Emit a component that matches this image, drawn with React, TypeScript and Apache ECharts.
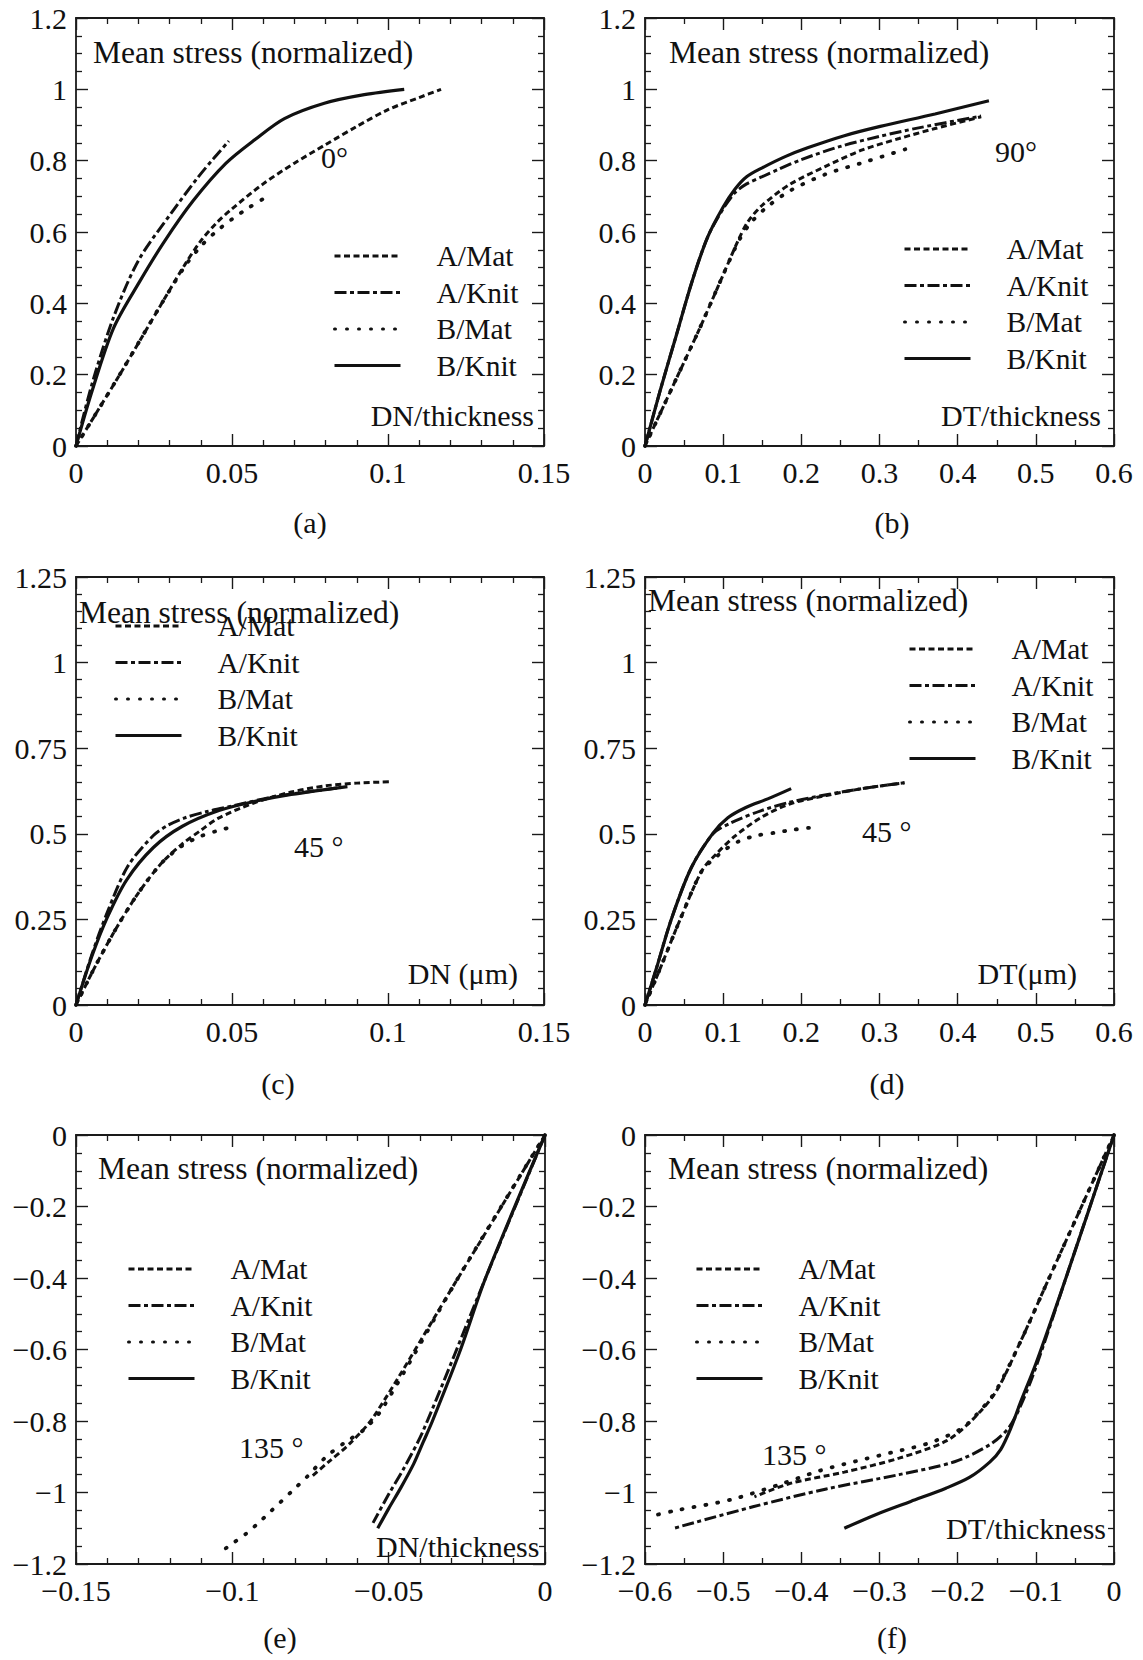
import React, { useEffect, useRef } from "react";
import * as echarts from "echarts";

type Pt = [number, number];

const FONT = '"Liberation Serif", "Times New Roman", Times, serif';
const INK = "#111111";
const TICK_FONT = 30;
const NOTE_FONT = 30;
const TITLE_FONT = 31.5;
const LEGEND_FONT = 29.5;

const SERIES_NAMES = ["A/Mat", "A/Knit", "B/Mat", "B/Knit"];

// ---------- (a) 0°, DN/thickness ----------
const a_AMat: Pt[] = [[0, 0], [0.014, 0.2], [0.0275, 0.4], [0.035, 0.51], [0.04, 0.575], [0.045, 0.625], [0.05, 0.665], [0.06, 0.735], [0.07, 0.793], [0.08, 0.845], [0.09, 0.896], [0.1, 0.943], [0.11, 0.977], [0.117, 1.0]];
const a_AKnit: Pt[] = [[0, 0], [0.005, 0.17], [0.012, 0.36], [0.02, 0.52], [0.0307, 0.655], [0.0388, 0.75], [0.044, 0.805], [0.049, 0.855]];
const a_BMat: Pt[] = [[0, 0], [0.014, 0.2], [0.0275, 0.4], [0.035, 0.505], [0.04, 0.56], [0.045, 0.602], [0.05, 0.636], [0.055, 0.666], [0.061, 0.698]];
const a_BKnit: Pt[] = [[0, 0], [0.005, 0.15], [0.012, 0.33], [0.0202, 0.458], [0.0283, 0.573], [0.0376, 0.688], [0.0481, 0.793], [0.0575, 0.86], [0.0668, 0.918], [0.0796, 0.961], [0.0924, 0.985], [0.1052, 1.0]];

// ---------- (b) 90°, DT/thickness ----------
const b_AMat: Pt[] = [[0, 0], [0.035, 0.165], [0.07, 0.33], [0.1, 0.48], [0.12, 0.58], [0.132, 0.63], [0.15, 0.675], [0.185, 0.733], [0.231, 0.784], [0.278, 0.83], [0.325, 0.862], [0.371, 0.89], [0.43, 0.923]];
const b_AKnit: Pt[] = [[0, 0], [0.02, 0.16], [0.04, 0.31], [0.06, 0.46], [0.08, 0.585], [0.1, 0.665], [0.115, 0.71], [0.13, 0.735], [0.15, 0.755], [0.17, 0.775], [0.2, 0.803], [0.25, 0.84], [0.3, 0.868], [0.35, 0.892], [0.43, 0.925]];
const b_BMat: Pt[] = [[0, 0], [0.035, 0.165], [0.07, 0.33], [0.1, 0.48], [0.12, 0.575], [0.135, 0.625], [0.155, 0.668], [0.185, 0.715], [0.231, 0.762], [0.278, 0.794], [0.333, 0.832]];
const b_BKnit: Pt[] = [[0, 0], [0.02, 0.16], [0.04, 0.31], [0.06, 0.46], [0.08, 0.585], [0.1, 0.67], [0.115, 0.72], [0.13, 0.755], [0.15, 0.78], [0.18, 0.812], [0.208, 0.836], [0.255, 0.87], [0.301, 0.896], [0.371, 0.931], [0.44, 0.968]];

// ---------- (c) 45°, DN (μm) ----------
const c_AMat: Pt[] = [[0, 0], [0.006, 0.11], [0.012, 0.21], [0.018, 0.3], [0.023, 0.365], [0.028, 0.42], [0.034, 0.47], [0.04, 0.51], [0.0455, 0.545], [0.057, 0.59], [0.069, 0.622], [0.08, 0.64], [0.09, 0.648], [0.101, 0.652]];
const c_AKnit: Pt[] = [[0, 0], [0.005, 0.145], [0.01, 0.27], [0.0166, 0.405], [0.0248, 0.495], [0.0295, 0.525], [0.035, 0.547], [0.042, 0.565], [0.0505, 0.582], [0.0645, 0.61], [0.085, 0.635]];
const c_BMat: Pt[] = [[0, 0], [0.006, 0.11], [0.012, 0.21], [0.018, 0.3], [0.023, 0.365], [0.028, 0.42], [0.034, 0.465], [0.04, 0.493], [0.045, 0.508], [0.05, 0.52]];
const c_BKnit: Pt[] = [[0, 0], [0.005, 0.14], [0.01, 0.255], [0.0162, 0.365], [0.0248, 0.46], [0.0341, 0.522], [0.0458, 0.568], [0.0574, 0.595], [0.069, 0.615], [0.087, 0.638]];

// ---------- (d) 45°, DT (μm) ----------
const d_AMat: Pt[] = [[0, 0], [0.02, 0.11], [0.045, 0.25], [0.073, 0.393], [0.092, 0.443], [0.115, 0.493], [0.148, 0.547], [0.185, 0.587], [0.232, 0.612], [0.278, 0.632], [0.332, 0.649]];
const d_AKnit: Pt[] = [[0, 0], [0.015, 0.11], [0.0336, 0.25], [0.059, 0.4], [0.087, 0.5], [0.11, 0.532], [0.148, 0.567], [0.185, 0.592], [0.232, 0.614], [0.278, 0.632], [0.332, 0.649]];
const d_BMat: Pt[] = [[0, 0], [0.02, 0.11], [0.045, 0.25], [0.073, 0.393], [0.09, 0.43], [0.1, 0.45], [0.12, 0.478], [0.143, 0.495], [0.166, 0.503], [0.19, 0.512], [0.212, 0.518]];
const d_BKnit: Pt[] = [[0, 0], [0.015, 0.11], [0.0336, 0.25], [0.059, 0.4], [0.087, 0.502], [0.106, 0.547], [0.129, 0.577], [0.157, 0.602], [0.187, 0.632]];

// ---------- (e) 135°, DN/thickness ----------
const e_AMat: Pt[] = [[0, 0], [-0.0278, -0.4], [-0.0547, -0.787], [-0.0623, -0.862], [-0.0693, -0.915], [-0.0746, -0.955]];
const e_AKnit: Pt[] = [[0, 0], [-0.019, -0.4], [-0.0389, -0.826], [-0.045, -0.93], [-0.05, -1.005], [-0.055, -1.085]];
const e_BMat: Pt[] = [[0, 0], [-0.0278, -0.4], [-0.052, -0.765], [-0.058, -0.825], [-0.064, -0.86], [-0.07, -0.9], [-0.076, -0.955], [-0.081, -0.997], [-0.088, -1.055], [-0.092, -1.088], [-0.0956, -1.115], [-0.1, -1.143], [-0.1035, -1.165]];
const e_BKnit: Pt[] = [[0, 0], [-0.019, -0.4], [-0.027, -0.6], [-0.036, -0.8], [-0.039, -0.86], [-0.042, -0.92], [-0.046, -0.985], [-0.05, -1.045], [-0.0535, -1.1]];

// ---------- (f) 135°, DT/thickness ----------
const f_AMat: Pt[] = [[0, 0], [-0.083, -0.4], [-0.12, -0.58], [-0.151, -0.718], [-0.181, -0.796], [-0.214, -0.855], [-0.275, -0.904], [-0.345, -0.943], [-0.415, -0.975], [-0.46, -1.012]];
const f_AKnit: Pt[] = [[0, 0], [-0.06, -0.39], [-0.1, -0.65], [-0.12, -0.76], [-0.135, -0.82], [-0.158, -0.865], [-0.204, -0.914], [-0.275, -0.95], [-0.368, -0.99], [-0.462, -1.04], [-0.563, -1.1]];
const f_BMat: Pt[] = [[0, 0], [-0.083, -0.4], [-0.12, -0.58], [-0.151, -0.715], [-0.175, -0.78], [-0.195, -0.821], [-0.237, -0.862], [-0.284, -0.888], [-0.331, -0.913], [-0.378, -0.94], [-0.424, -0.975], [-0.49, -1.02], [-0.56, -1.05], [-0.59, -1.065]];
const f_BKnit: Pt[] = [[0, 0], [-0.06, -0.39], [-0.1, -0.64], [-0.12, -0.75], [-0.132, -0.82], [-0.145, -0.88], [-0.159, -0.915], [-0.185, -0.958], [-0.215, -0.988], [-0.26, -1.025], [-0.305, -1.062], [-0.345, -1.1]];

// ---------- axis ranges ----------
const X_DN = { min: 0, max: 0.15, interval: 0.05, minor: 5 };
const X_DT = { min: 0, max: 0.6, interval: 0.1, minor: 2 };
const Y_12 = { min: 0, max: 1.2, interval: 0.2, minor: 4 };
const Y_125 = { min: 0, max: 1.25, interval: 0.25, minor: 5 };
const X_DN_NEG = { min: -0.15, max: 0, interval: 0.05, minor: 5 };
const X_DT_NEG = { min: -0.6, max: 0, interval: 0.1, minor: 2 };
const Y_NEG = { min: -1.2, max: 0, interval: 0.2, minor: 4 };

const LINE_STYLES: Record<string, any> = {
  "A/Mat": { type: [6, 3.5], width: 3, cap: "butt" },
  "A/Knit": { type: [12, 3.5, 4, 3.5], width: 3, cap: "butt" },
  "B/Mat": { type: [1, 11], width: 3.8, cap: "round" },
  "B/Knit": { type: "solid", width: 3.2, cap: "butt" },
};

type Note = { text: string; x: number; y: number; align: "left" | "right" | "center"; size?: number };

const PANELS = [
  {
    grid: { left: 76, top: 18, width: 468, height: 428 },
    xr: X_DN, yr: Y_12,
    curves: [a_AMat, a_AKnit, a_BMat, a_BKnit],
    legend: { left: 333, top: 241 },
    notes: [
      { text: "Mean stress (normalized)", x: 93, y: 52, align: "left", size: TITLE_FONT },
      { text: "0°", x: 321, y: 157, align: "left" },
      { text: "DN/thickness", x: 534, y: 415, align: "right" },
      { text: "(a)", x: 310, y: 522, align: "center" },
    ] as Note[],
  },
  {
    grid: { left: 645, top: 18, width: 469, height: 428 },
    xr: X_DT, yr: Y_12,
    curves: [b_AMat, b_AKnit, b_BMat, b_BKnit],
    legend: { left: 903, top: 234 },
    notes: [
      { text: "Mean stress (normalized)", x: 669, y: 52, align: "left", size: TITLE_FONT },
      { text: "90°", x: 995, y: 151, align: "left" },
      { text: "DT/thickness", x: 1101, y: 415, align: "right" },
      { text: "(b)", x: 892, y: 522, align: "center" },
    ] as Note[],
  },
  {
    grid: { left: 76, top: 577, width: 468, height: 428 },
    xr: X_DN, yr: Y_125,
    curves: [c_AMat, c_AKnit, c_BMat, c_BKnit],
    legend: { left: 114, top: 611 },
    notes: [
      { text: "Mean stress (normalized)", x: 79, y: 612, align: "left", size: TITLE_FONT },
      { text: "45 °", x: 294, y: 846, align: "left" },
      { text: "DN (μm)", x: 518, y: 973, align: "right" },
      { text: "(c)", x: 278, y: 1083, align: "center" },
    ] as Note[],
  },
  {
    grid: { left: 645, top: 577, width: 469, height: 428 },
    xr: X_DT, yr: Y_125,
    curves: [d_AMat, d_AKnit, d_BMat, d_BKnit],
    legend: { left: 908, top: 634 },
    notes: [
      { text: "Mean stress (normalized)", x: 648, y: 600, align: "left", size: TITLE_FONT },
      { text: "45 °", x: 862, y: 831, align: "left" },
      { text: "DT(μm)", x: 1077, y: 973, align: "right" },
      { text: "(d)", x: 887, y: 1083, align: "center" },
    ] as Note[],
  },
  {
    grid: { left: 76, top: 1135, width: 469, height: 429 },
    xr: X_DN_NEG, yr: Y_NEG,
    curves: [e_AMat, e_AKnit, e_BMat, e_BKnit],
    legend: { left: 127, top: 1254 },
    notes: [
      { text: "Mean stress (normalized)", x: 98, y: 1168, align: "left", size: TITLE_FONT },
      { text: "135 °", x: 239, y: 1447, align: "left" },
      { text: "DN/thickness", x: 376, y: 1546, align: "left" },
      { text: "(e)", x: 280, y: 1637, align: "center" },
    ] as Note[],
  },
  {
    grid: { left: 645, top: 1135, width: 469, height: 429 },
    xr: X_DT_NEG, yr: Y_NEG,
    curves: [f_AMat, f_AKnit, f_BMat, f_BKnit],
    legend: { left: 695, top: 1254 },
    notes: [
      { text: "Mean stress (normalized)", x: 668, y: 1168, align: "left", size: TITLE_FONT },
      { text: "135 °", x: 762, y: 1454, align: "left" },
      { text: "DT/thickness", x: 1106, y: 1528, align: "right" },
      { text: "(f)", x: 892, y: 1637, align: "center" },
    ] as Note[],
  },
];

function fmt(v: number): string {
  const r = Math.round(v * 10000) / 10000;
  if (r === 0) return "0";
  return r < 0 ? "\u2212" + String(-r) : String(r);
}

function makeAxis(r: { min: number; max: number; interval: number; minor: number }, gridIndex: number, position: string, showLabel: boolean, labelMargin: number) {
  return {
    type: "value",
    gridIndex,
    position,
    min: r.min,
    max: r.max,
    interval: r.interval,
    axisLine: { show: true, onZero: false, lineStyle: { color: "#1a1a1a", width: 1.8 } },
    axisTick: { show: true, inside: true, length: 12, lineStyle: { color: "#1a1a1a", width: 1.4 } },
    minorTick: { show: true, splitNumber: r.minor, length: 6, lineStyle: { color: "#1a1a1a", width: 1.3 } },
    splitLine: { show: false },
    minorSplitLine: { show: false },
    axisLabel: {
      show: showLabel,
      formatter: fmt,
      fontFamily: FONT,
      fontSize: TICK_FONT,
      color: INK,
      margin: labelMargin,
    },
    silent: true,
  };
}

function buildOption() {
  const grid: any[] = [];
  const xAxis: any[] = [];
  const yAxis: any[] = [];
  const series: any[] = [];
  const legend: any[] = [];
  const elements: any[] = [];

  PANELS.forEach((p, i) => {
    grid.push({ ...p.grid, containLabel: false });
    xAxis.push(makeAxis(p.xr, i, "bottom", true, 11));
    xAxis.push(makeAxis(p.xr, i, "top", false, 8));
    yAxis.push(makeAxis(p.yr, i, "left", true, 9));
    yAxis.push(makeAxis(p.yr, i, "right", false, 8));

    p.curves.forEach((data, k) => {
      const name = SERIES_NAMES[k];
      const ls = LINE_STYLES[name];
      series.push({
        type: "line",
        name,
        xAxisIndex: i * 2,
        yAxisIndex: i * 2,
        data,
        symbol: "none",
        showSymbol: false,
        smooth: 0.3,
        silent: true,
        z: 3,
        lineStyle: { color: INK, width: ls.width, type: ls.type, cap: ls.cap },
        itemStyle: { color: INK },
      });
    });

    legend.push({
      data: SERIES_NAMES,
      orient: "vertical",
      left: p.legend.left,
      top: p.legend.top,
      padding: 0,
      itemWidth: 66,
      itemHeight: 14,
      itemGap: 6.5,
      selectedMode: false,
      itemStyle: { opacity: 0 },
      lineStyle: { width: 3 },
      textStyle: { fontFamily: FONT, fontSize: LEGEND_FONT, color: INK, padding: [0, 0, 0, 31] },
    });

    p.notes.forEach((n) => {
      elements.push({
        type: "text",
        x: n.x,
        y: n.y,
        silent: true,
        z: 10,
        style: {
          text: n.text,
          font: `${n.size ?? NOTE_FONT}px ${FONT}`,
          fill: INK,
          align: n.align,
          textAlign: n.align,
          verticalAlign: "middle",
          textVerticalAlign: "middle",
        },
      });
    });
  });

  return {
    animation: false,
    backgroundColor: "#ffffff",
    textStyle: { fontFamily: FONT },
    grid,
    xAxis,
    yAxis,
    legend,
    series,
    graphic: { elements },
  };
}

export default function App() {
  const ref = useRef<HTMLDivElement | null>(null);
  useEffect(() => {
    if (!ref.current) return;
    const chart = echarts.init(ref.current, undefined, { renderer: "svg" });
    chart.setOption(buildOption() as any);
    return () => chart.dispose();
  }, []);
  return (
    <div
      ref={ref}
      style={{ position: "absolute", left: 0, top: 0, width: 1143, height: 1660, background: "#fff" }}
    />
  );
}
